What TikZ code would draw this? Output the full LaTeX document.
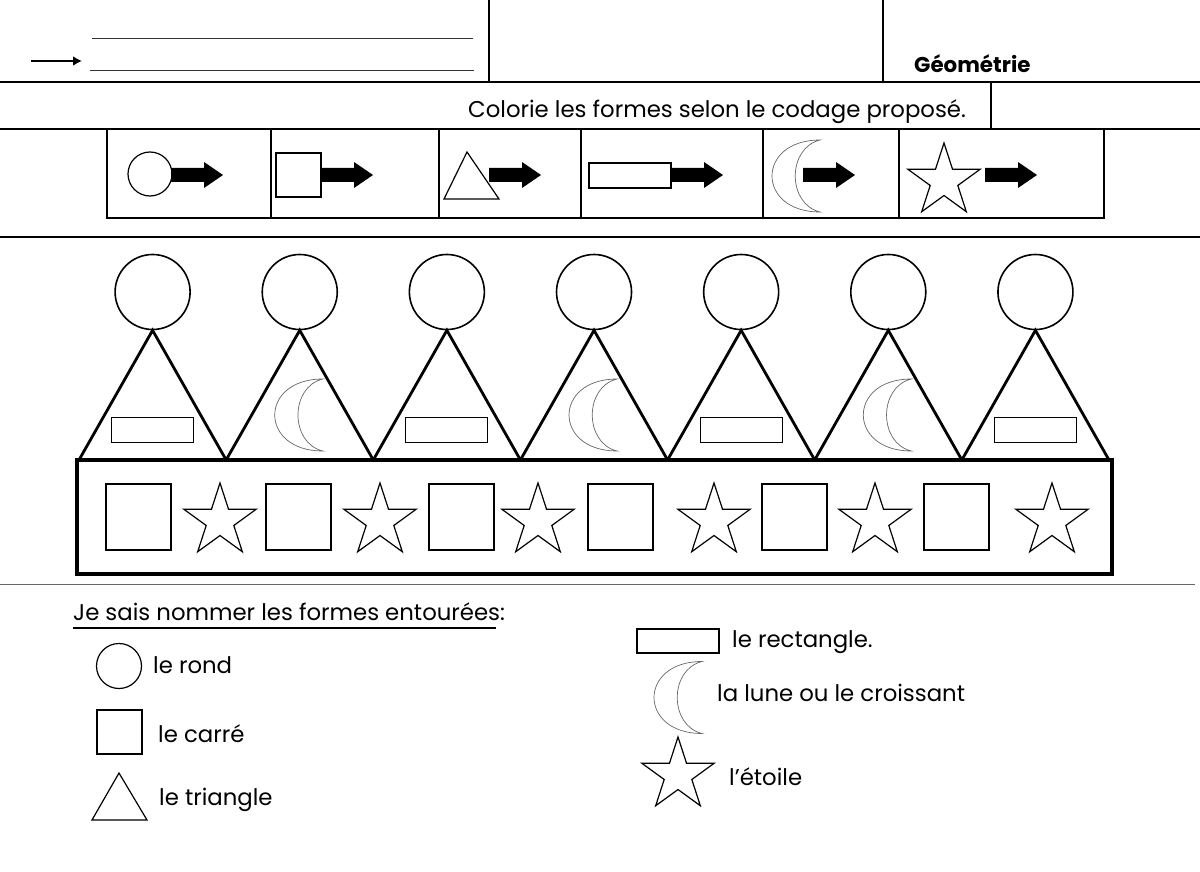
\documentclass[tikz,border=0pt]{standalone}
\usepackage{fontspec}
\setmainfont{Poppins}
\usetikzlibrary{shapes.geometric,arrows.meta}

\newcommand\fichefont{\fontsize{22.8}{27}\selectfont}
\newcommand\titrefont{\fontsize{21.4}{25}\selectfont\bfseries}

\tikzset{
  trait/.style={black, line width=2.6pt},
  forme/.style={draw, black, line width=1.2pt, inner sep=0pt},
  etoile/.style={forme, star, star points=5, star point ratio=2.618, minimum size=76pt},
  texte/.style={anchor=base west, inner sep=0pt, font=\fichefont},
  lune/.pic={\draw [gray!80!black, line width=0.7pt] (0,-36) .. controls (-64,-36) and (-64,36) .. (0,36)
             .. controls (-33,28) and (-33,-28) .. cycle;},
  grossefleche/.pic={\fill [black] (0,-7) -- (33,-7) -- (33,-13) -- (52,0) -- (33,13) -- (33,7) -- (0,7) -- cycle;}
}

\begin{document}
\begin{tikzpicture}[x=1pt,y=-1pt]
\useasboundingbox (0,0) rectangle (1200,872);

% en-tete
\draw [trait] (489,0) -- (489,82);
\draw [trait] (883,0) -- (883,82);
\draw [trait] (0,82) -- (1200,82);
\draw [trait] (991,82) -- (991,129);
\draw [trait] (0,129) -- (1200,129);
\draw [trait] (0,237) -- (1200,237);
\draw [black!80, line width=1pt] (92,39) -- (473,39);
\draw [black!80, line width=1pt] (90,71) -- (474,71);
\coordinate (fl1) at (31,61);
\coordinate (fl2) at (82,61);
\draw [black, line width=2pt, -{Latex[length=9pt,width=10pt]}] (fl1) -- (fl2);
\node [texte, font=\titrefont] (titre) at (914,73) {Géométrie};
\node [texte] (consigne) at (468,118) {Colorie les formes selon le codage proposé.};

% codage
\draw [trait] (107,129) -- (107,218) -- (1104,218) -- (1104,129);
\foreach \x in {271,439,581,763,899}
  \draw [trait] (\x,129) -- (\x,218);
\node [forme, circle, minimum size=44pt] (codeRond) at (150,174) {};
\node [forme, minimum width=45pt, minimum height=44pt] (codeCarre) at (298.5,175) {};
\draw [forme] (467,152) -- (499,199) -- (444,199) -- cycle;
\node [forme, minimum width=82pt, minimum height=25pt] (codeRect) at (630,175.5) {};
\pic (codeLune) at (820,176) {lune};
\node [etoile] (codeEtoile) at (944,181) {};
\foreach \x in {171,321,489,671,803,985}
  \pic at (\x,175) {grossefleche};

% couronne
\foreach \i in {0,...,7}
  \coordinate (b\i) at ({79+147.14*\i},460);
\foreach \i in {0,...,6}
  \node [forme, circle, line width=1.6pt, minimum size=75pt] (rond\i) at ({152.6+147.14*\i},292) {};
\foreach \i [count=\j] in {0,...,6}
  \draw [black, line width=2.8pt] (b\i) -- (rond\i.south) -- (b\j);
\foreach \i in {0,2,4,6}
  \node [forme, line width=1pt, minimum width=82pt, minimum height=25pt] (rect\i) at ({152.6+147.14*\i},429.5) {};
\foreach \i in {1,3,5}
  \pic (lune\i) at ({175.6+147.14*\i},415) {lune};
\draw [black, line width=3.5pt] (77,460) rectangle (1112,574);
\foreach \x [count=\k] in {106,266,429,588,762,924}
  \node [forme, minimum width=65pt, minimum height=66pt] (carre\k) at (\x+32.5,517) {};
\foreach \x [count=\k] in {220,380,538,714,875,1052}
  \node [etoile] (etoile\k) at (\x,521) {};

\draw [black!60, line width=0.8pt] (0,584) -- (1195,584);

% legende
\node [texte] (question) at (73,620) {Je sais nommer les formes entourées:};
\draw [black, line width=1.2pt] (73,628) -- (496,628);
\node [forme, circle, minimum size=45pt] (legRond) at (119,666) {};
\node [texte] (txtRond) at (153,673) {le rond};
\node [forme, minimum width=45pt, minimum height=44pt] (legCarre) at (119.5,732) {};
\node [texte] (txtCarre) at (158,742) {le carré};
\draw [forme] (119,773) -- (147,820) -- (92,820) -- cycle;
\node [texte] (txtTriangle) at (159,805) {le triangle};
\node [forme, minimum width=82pt, minimum height=24pt] (legRect) at (678,641) {};
\node [texte] (txtRect) at (732,647) {le rectangle.};
\pic (legLune) at (702,697.5) {lune};
\node [texte] (txtLune) at (717,701) {la lune ou le croissant};
\node [etoile] (legEtoile) at (678,775) {};
\node [texte] (txtEtoile) at (729,785) {l'étoile};
\end{tikzpicture}
\end{document}
